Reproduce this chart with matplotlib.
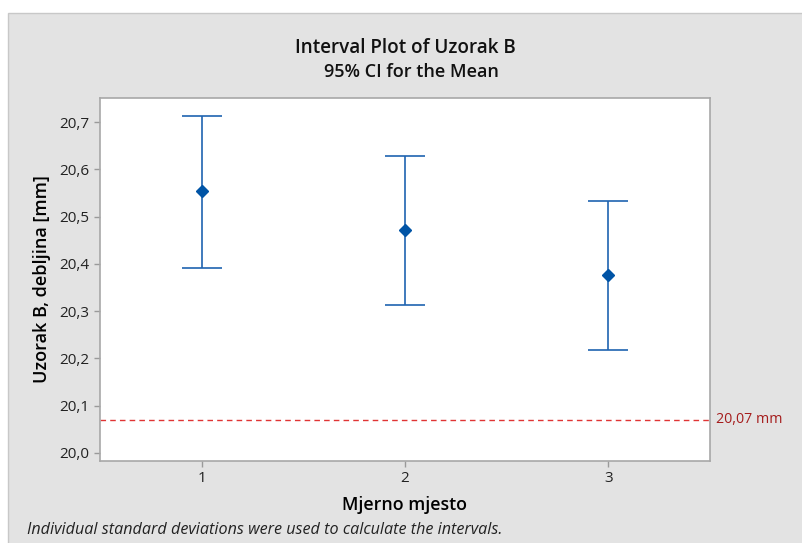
import numpy as np
import matplotlib.pyplot as plt
from matplotlib.patches import Rectangle

plt.rcParams['font.family'] = ['Open Sans', 'DejaVu Sans']

# data
mjesta = [1, 2, 3]
srednja = [20.554, 20.472, 20.376]
gornja = [20.713, 20.628, 20.533]
donja = [20.391, 20.313, 20.218]
granica = 20.07
y_ticks = [20.0, 20.1, 20.2, 20.3, 20.4, 20.5, 20.6, 20.7]

fig = plt.figure(figsize=(8.02, 5.43), dpi=100, facecolor='white')
# grey panel behind the plot
fig.patches.append(Rectangle((8 / 802, -0.01), 1.0, 1 - 13 / 543 + 0.01,
                             transform=fig.transFigure, facecolor='#e3e3e3',
                             edgecolor='#c8c8c8', linewidth=1, zorder=-10))

ax = fig.add_axes([100 / 802, 1 - 461 / 543, 610 / 802, 363 / 543])
ax.set_facecolor('white')

err_lo = np.array(srednja) - np.array(donja)
err_hi = np.array(gornja) - np.array(srednja)
ax.errorbar(mjesta, srednja, yerr=[err_lo, err_hi], fmt='D', color='#0054a6',
            ecolor='#1f63b0', elinewidth=1.2, capsize=14.5, capthick=1.2,
            markersize=6.5)

ax.axhline(granica, color='#e03434', linestyle=(0, (4, 3)), linewidth=1)
ax.text(3.53, granica, '20,07 mm', color='#a51c1c', fontsize=10.3,
        va='center', ha='left', clip_on=False)

ax.set_xlim(0.5, 3.5)
ax.set_ylim(19.983, 20.751)
ax.set_xticks(mjesta)
ax.set_xticklabels([str(m) for m in mjesta])
ax.set_yticks(y_ticks)
ax.set_yticklabels([f'{t:.1f}'.replace('.', ',') for t in y_ticks])
ax.tick_params(axis='both', colors='#9a9a9a', labelcolor='#222222',
               labelsize=11, length=4, width=1)
for lab in ax.get_xticklabels() + ax.get_yticklabels():
    lab.set_fontweight('medium')
for s in ax.spines.values():
    s.set_color('#a8a8a8')
    s.set_linewidth(1.2)

ax.set_xlabel('Mjerno mjesto', fontsize=12.8, fontweight='semibold', labelpad=7)
ax.set_ylabel('Uzorak B, debljina [mm]', fontsize=13, fontweight='semibold',
              labelpad=6)

fig.text(405 / 802, 1 - 48 / 543, 'Interval Plot of Uzorak B', ha='center',
         va='center', fontsize=13.6, fontweight='semibold', color='#111111')
fig.text(411 / 802, 1 - 72 / 543, '95% CI for the Mean', ha='center',
         va='center', fontsize=13, fontweight='semibold', color='#111111')
fig.text(27 / 802, 1 - 530 / 543,
         'Individual standard deviations were used to calculate the intervals.',
         ha='left', va='center', fontsize=11.6, style='italic', color='#222222')

fig.savefig('out.png', dpi=100, facecolor=fig.get_facecolor())
